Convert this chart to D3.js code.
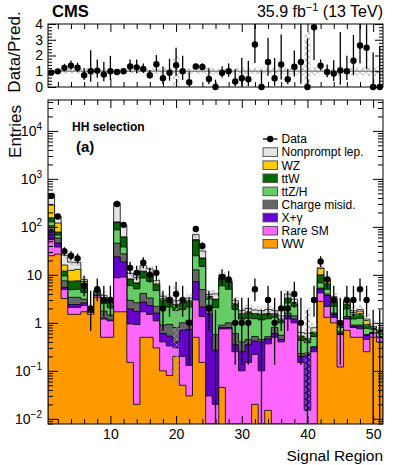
<!DOCTYPE html>
<html lang="en">
<head>
	<meta charset="utf-8">
	<title>CMS signal regions, HH selection</title>
	<script src="https://cdnjs.cloudflare.com/ajax/libs/d3/7.8.5/d3.min.js"></script>
	<style>
		body { margin: 0; background: white; }
		text { font-family: "Liberation Sans", Arial, Helvetica, sans-serif; }
	</style>
</head>
<body>
<div id="chart"></div>
<script type="text/javascript">

	// Signal region numbers
	var bins = d3.range(1, 52);

	// Predicted yields per background (bottom to top)
	var ww = [25,27,3.2,1.5,1.5,1.7,1.5,3.4,0.5,0.5, 1.7,1.7,0.15,0.02,0.5,0.5,0.3,0.1,0.08,0.2, 0.05,0.03,0.5,0.15,0,0,0.045,0,0,0, 0,0.02,0,0.015,0,0,0,0,0,0, 0,2.8,1.3,1.0,0.12,0.7,0.5,0.5,0.25,0.5,0.4];
	var rareSM = [29,11,1.8,0.6,0.6,0.6,0.15,0.3,0.7,0.6, 7,7.3,0.8,0.9,1.2,1.0,0.8,0.3,0.25,0.1, 0.15,0.1,2.5,1.2,0.03,0.02,0.7,0.75,0.25,0.1, 0.15,0.2,0.1,0.35,0.5,0.4,1.2,1.0,0.15,0.015, 0.25,1.4,0.9,0.3,0.45,0.5,0.3,0.25,0.2,0.1,0.1];
	var xGamma = [29,8,0.5,0.3,0.3,0.3,0.03,0.1,0.05,0.05, 15,9.6,1.0,0.8,1.0,0.8,0.5,0.2,0.2,0.1, 0.5,0.6,4.2,0.8,1.5,0.25,0.05,0.05,0.1,0.15, 0.2,0.2,0.3,0.1,0.1,0.05,0.2,0.2,0.05,0.2, 0.05,0.9,1.5,0.2,0.03,0.05,0.05,0.1,0.1,0.02,0.01];
	var chargeMisid = [22,12.6,2,1,1,0.5,0.05,0.2,0.5,0.3, 22,8.8,1.0,0.9,1.4,1.0,0.6,0.3,0.4,0.4, 0.3,0.4,5.5,2.8,0.8,0.3,0.1,0.2,0.25,0.15, 0.1,0.1,0.05,0.05,0.2,0.1,0.2,0.2,0.03,0.02, 0.02,0.2,0.3,0.1,0.05,0.1,0.05,0.05,0.02,0.01,0.01];
	var ttZH = [22,9,2,1.5,1.6,1.2,0.12,0.3,0.8,0.6, 41,10.6,3.0,2.5,4.5,4.0,2.5,1.3,1.2,1.0, 0.9,1.0,12.3,10,0.8,1.5,5,4,1.3,0.8, 0.8,0.7,0.7,0.7,0.5,0.45,1.0,0.8,0.2,0.15, 0.2,1.5,1.0,0.6,0.15,0.6,0.3,0.35,0.2,0.1,0.1];
	var ttW = [27,10.5,2.5,2.5,2.5,1.0,0.08,0.2,0.6,0.5, 37,22,2.0,1.5,3.0,2.5,1.5,0.8,0.6,0.5, 0.6,0.7,28,7,0.4,1.0,2.5,2,0.5,0.3, 0.4,0.3,0.35,0.3,0.2,0.15,0.6,0.4,0.08,0.08, 0.1,3.2,1.5,0.5,0.08,0.5,0.3,0.3,0.15,0.05,0.05];
	var wz = [130,42,4,5,5.5,2.0,0.05,0.2,0.2,0.15, 3,2,0.3,0.2,0.4,0.5,0.3,0.2,0.15,0.1, 0.1,0.05,1,0.5,0.05,0.05,0.1,0.1,0.1,0.05, 0.05,0.05,0.02,0.05,0.05,0.05,0.1,0.05,0.02,0.01, 0.02,3.5,1.2,0.5,0.02,0.3,0.15,0.2,0.2,0.05,0.02];
	var nonprompt = [200,45,9.5,6,5,0.7,0.02,0.1,0.4,0.3, 189,48,2.5,2.0,3.6,3.0,1.1,0.4,0.42,0.49, 0.4,0.42,15,9,0.33,0.9,1.5,0.9,0.4,0.25, 0.3,0.28,0.28,0.33,0.25,0.2,0.7,0.45,0.1,0.13, 0.15,0.5,0.7,0.3,0.05,0.25,0.15,0.15,0.08,0.02,0.03];

	// Observed events
	var observed = [443,164,31,25,22,6,2,5,3,3, 300,110,14,11,18,10,11,2,3,4, 3,1,90,40,2,0,9,8,1,1, 1,5,0,3,1,2,2,4,1,0, 3,19,8,3,1,3,3,5,3,0,0];

	// Relative uncertainty of the total prediction (hatched band)
	var relUnc = [0.12,0.12,0.15,0.15,0.15,0.2,0.25,0.2,0.2,0.2, 0.12,0.12,0.15,0.15,0.15,0.15,0.15,0.2,0.2,0.98, 0.2,0.2,0.15,0.15,0.25,0.2,0.15,0.15,0.2,0.2, 0.2,0.2,0.2,0.2,0.2,0.2,0.2,0.2,0.25,2.5, 0.25,0.15,0.15,0.2,0.3,0.2,0.25,0.25,0.3,0.3,0.3];

	// Tick values
	var xMajorTicks = [10, 20, 30, 40, 50];
	var yDecades = [-2, -1, 0, 1, 2, 3, 4];
	var ratioTicks = [0, 1, 2, 3, 4];

	// Backgrounds from the bottom of the stack to the top
	var backgrounds = [
		{name: "WW", color: "#ff9900", values: ww},
		{name: "Rare SM", color: "#ff66ff", values: rareSM},
		{name: "X+\u03b3", color: "#6600cc", values: xGamma},
		{name: "Charge misid.", color: "#666666", values: chargeMisid},
		{name: "ttZ/H", color: "#66cc66", values: ttZH},
		{name: "ttW", color: "#006600", values: ttW},
		{name: "WZ", color: "#ffcc00", values: wz},
		{name: "Nonprompt lep.", color: "#e6e6e6", values: nonprompt}
	];

	// Layout
	var width = 399, height = 465;
	var left = 48, right = 383;
	var mainTop = 100, mainBottom = 424;
	var ratioTop = 24, ratioBottom = 87;
	var yMin = 0.0078, yMax = 44000;

	var svg = d3.select("#chart")
		.append("svg")
		.attr("width", width)
		.attr("height", height)
		.style("background", "white");

	var defs = svg.append("defs");
	defs.append("pattern")
		.attr("id", "hatch")
		.attr("width", 6).attr("height", 6)
		.attr("patternUnits", "userSpaceOnUse")
		.append("path")
		.attr("d", "M0,0L6,6M6,0L0,6")
		.attr("stroke", "#9a9a9a")
		.attr("stroke-width", 0.6);
	defs.append("clipPath").attr("id", "mainClip")
		.append("rect").attr("x", left).attr("y", mainTop)
		.attr("width", right - left).attr("height", mainBottom - mainTop);
	defs.append("clipPath").attr("id", "ratioClip")
		.append("rect").attr("x", left).attr("y", ratioTop)
		.attr("width", right - left).attr("height", ratioBottom - ratioTop);

	// Scales
	var x = d3.scaleLinear().domain([0.5, 51.5]).range([left, right]);
	var y = d3.scaleLog().domain([yMin, yMax]).range([mainBottom, mainTop]).clamp(true);
	var yRatio = d3.scaleLinear().domain([0, 4]).range([ratioBottom, ratioTop]).clamp(true);
	function yv(v) { return y(Math.max(v, yMin)); }

	// Stack the backgrounds
	var rows = bins.map(function(b, i) {
		var r = {bin: b};
		backgrounds.forEach(function(s) { r[s.name] = s.values[i]; });
		return r;
	});
	var stacked = d3.stack().keys(backgrounds.map(function(s) { return s.name; }))(rows);
	var totals = rows.map(function(r, i) { return stacked[stacked.length - 1][i][1]; });

	// Poisson (Garwood-like) error bars
	function upErr(n) { return 1 + Math.sqrt(n + 0.75); }
	function lowErr(n) { return n > 0 ? Math.sqrt(n - 0.25) : 0; }

	// ---------- main panel ----------
	var main = svg.append("g").attr("clip-path", "url(#mainClip)");
	var line = d3.line();

	// Draw cumulative histograms from the top one down, ROOT style
	stacked.slice().reverse().forEach(function(layer, k) {
		var color = backgrounds[backgrounds.length - 1 - k].color;
		var pts = [[x(0.5), mainBottom + 2]];
		layer.forEach(function(d, i) {
			pts.push([x(bins[i] - 0.5), yv(d[1])]);
			pts.push([x(bins[i] + 0.5), yv(d[1])]);
		});
		pts.push([x(51.5), mainBottom + 2]);
		main.append("path")
			.attr("d", line(pts) + "Z")
			.attr("fill", color)
			.attr("stroke", "black")
			.attr("stroke-width", 0.8);
	});

	// Uncertainty band
	main.selectAll("rect.unc")
		.data(bins)
		.enter()
		.append("rect")
		.attr("class", "unc")
		.attr("x", function(b) { return x(b - 0.5); })
		.attr("width", function(b) { return x(b + 0.5) - x(b - 0.5); })
		.attr("y", function(b, i) { return yv(totals[i] * (1 + relUnc[i])); })
		.attr("height", function(b, i) { return yv(totals[i] * (1 - relUnc[i])) - yv(totals[i] * (1 + relUnc[i])); })
		.attr("fill", "url(#hatch)");

	// Data error bars and markers
	main.selectAll("line.err")
		.data(bins)
		.enter()
		.append("line")
		.attr("class", "err")
		.attr("x1", function(b) { return x(b); })
		.attr("x2", function(b) { return x(b); })
		.attr("y1", function(b, i) { return yv(observed[i] - lowErr(observed[i])); })
		.attr("y2", function(b, i) { return yv(observed[i] + upErr(observed[i])); })
		.attr("stroke", "black")
		.attr("stroke-width", 1.3);

	svg.selectAll("circle.data")
		.data(bins.filter(function(b, i) { return observed[i] > 0; }))
		.enter()
		.append("circle")
		.attr("class", "data")
		.attr("cx", function(b) { return x(b); })
		.attr("cy", function(b) { return yv(observed[b - 1]); })
		.attr("r", 3.2)
		.attr("fill", "black");

	// Main axes
	var xMinorTicks = d3.range(2, 52, 2).filter(function(v) { return v % 10 !== 0; });
	var yMajor = yDecades.map(function(e) { return Math.pow(10, e); });
	var yMinor = [];
	d3.range(-3, 5).forEach(function(e) {
		for (var m = 2; m <= 9; m++) {
			var v = m * Math.pow(10, e);
			if (v > yMin && v < yMax) yMinor.push(v);
		}
	});

	function addAxis(axis, tx, ty) {
		var g = svg.append("g")
			.attr("transform", "translate(" + tx + "," + ty + ")")
			.call(axis);
		g.select(".domain").remove();
		g.selectAll("line").attr("stroke", "black");
		return g;
	}

	var xAxisMain = addAxis(d3.axisBottom(x).tickValues(xMajorTicks).tickSize(-8).tickPadding(5)
		.tickFormat(d3.format("d")), 0, mainBottom);
	xAxisMain.selectAll("text").attr("font-size", 14).attr("fill", "black")
		.attr("font-family", "Liberation Sans, Arial, sans-serif");
	addAxis(d3.axisBottom(x).tickValues(xMinorTicks).tickSize(-5).tickFormat(""), 0, mainBottom);
	addAxis(d3.axisTop(x).tickValues(xMajorTicks).tickSize(-8).tickFormat(""), 0, mainTop);
	addAxis(d3.axisTop(x).tickValues(xMinorTicks).tickSize(-5).tickFormat(""), 0, mainTop);
	addAxis(d3.axisLeft(y).tickValues(yMajor).tickSize(-10).tickFormat(""), left, 0);
	addAxis(d3.axisLeft(y).tickValues(yMinor).tickSize(-5).tickFormat(""), left, 0);
	addAxis(d3.axisRight(y).tickValues(yMajor).tickSize(-10).tickFormat(""), right, 0);
	addAxis(d3.axisRight(y).tickValues(yMinor).tickSize(-5).tickFormat(""), right, 0);

	// Log labels with superscripts
	var yLabels = svg.selectAll("text.ylab")
		.data(yDecades)
		.enter()
		.append("text")
		.attr("class", "ylab")
		.attr("x", 42)
		.attr("y", function(e) { return y(Math.pow(10, e)) + 5; })
		.attr("text-anchor", "end")
		.attr("font-size", 14);
	yLabels.each(function(e) {
		var t = d3.select(this);
		if (e === 0) { t.text("1"); return; }
		if (e === 1) { t.text("10"); return; }
		t.append("tspan").text("10");
		t.append("tspan").attr("font-size", 10).attr("dy", -6)
			.text(e < 0 ? "\u2212" + (-e) : String(e));
	});

	svg.append("rect")
		.attr("x", left).attr("y", mainTop)
		.attr("width", right - left).attr("height", mainBottom - mainTop)
		.attr("fill", "none").attr("stroke", "black").attr("stroke-width", 1);

	svg.append("text")
		.attr("transform", "translate(21," + 105 + ") rotate(-90)")
		.attr("text-anchor", "end")
		.attr("font-size", 17)
		.text("Entries");

	svg.append("text")
		.attr("x", right).attr("y", 461)
		.attr("text-anchor", "end")
		.attr("font-size", 15.5)
		.text("Signal Region");

	svg.append("text")
		.attr("x", 72).attr("y", 131)
		.attr("font-size", 12).attr("font-weight", "bold")
		.text("HH selection");
	svg.append("text")
		.attr("x", 76).attr("y", 152)
		.attr("font-size", 15).attr("font-weight", "bold")
		.text("(a)");

	// Legend
	var legendRows = [{name: "Data", color: null}].concat(backgrounds.slice().reverse());
	var legend = svg.selectAll("g.leg")
		.data(legendRows)
		.enter()
		.append("g")
		.attr("class", "leg")
		.attr("transform", function(d, i) { return "translate(263," + (139 + i * 13.1) + ")"; });
	legend.each(function(d) {
		var g = d3.select(this);
		if (d.color === null) {
			g.append("line").attr("x1", 0).attr("x2", 14.5).attr("y1", 0).attr("y2", 0)
				.attr("stroke", "black").attr("stroke-width", 1.3);
			g.append("circle").attr("cx", 7.2).attr("cy", 0).attr("r", 3.2).attr("fill", "black");
		} else {
			g.append("rect").attr("x", 0).attr("y", -4.3).attr("width", 14.5).attr("height", 8.6)
				.attr("fill", d.color).attr("stroke", "#555").attr("stroke-width", 1);
		}
		g.append("text").attr("x", 18.5).attr("y", 4.3).attr("font-size", 12).text(d.name);
	});

	// ---------- ratio panel ----------
	var ratio = svg.append("g");
	ratio.append("g").attr("clip-path", "url(#ratioClip)")
		.selectAll("rect")
		.data(bins)
		.enter()
		.append("rect")
		.attr("x", function(b) { return x(b - 0.5); })
		.attr("width", function(b) { return x(b + 0.5) - x(b - 0.5); })
		.attr("y", function(b, i) { return yRatio(1 + relUnc[i]); })
		.attr("height", function(b, i) { return yRatio(1 - relUnc[i]) - yRatio(1 + relUnc[i]); })
		.attr("fill", "url(#hatch)");

	ratio.append("line")
		.attr("x1", left).attr("x2", right)
		.attr("y1", yRatio(1)).attr("y2", yRatio(1))
		.attr("stroke", "#8c8c8c").attr("stroke-width", 1.3);

	ratio.selectAll("line.rerr")
		.data(bins)
		.enter()
		.append("line")
		.attr("class", "rerr")
		.attr("x1", function(b) { return x(b); })
		.attr("x2", function(b) { return x(b); })
		.attr("y1", function(b, i) { return yRatio((observed[i] - lowErr(observed[i])) / totals[i]); })
		.attr("y2", function(b, i) { return yRatio((observed[i] + upErr(observed[i])) / totals[i]); })
		.attr("stroke", "black")
		.attr("stroke-width", 1.3);

	ratio.selectAll("circle")
		.data(bins)
		.enter()
		.append("circle")
		.attr("cx", function(b) { return x(b); })
		.attr("cy", function(b, i) { return yRatio(observed[i] / totals[i]); })
		.attr("r", 3.2)
		.attr("fill", "black");

	var ratioMinor = d3.range(0, 4.01, 0.2).filter(function(v) { return Math.abs(v - Math.round(v)) > 0.01; });
	addAxis(d3.axisBottom(x).tickValues(xMajorTicks).tickSize(-8).tickFormat(""), 0, ratioBottom);
	addAxis(d3.axisBottom(x).tickValues(xMinorTicks).tickSize(-5).tickFormat(""), 0, ratioBottom);
	addAxis(d3.axisTop(x).tickValues(xMajorTicks).tickSize(-8).tickFormat(""), 0, ratioTop);
	addAxis(d3.axisTop(x).tickValues(xMinorTicks).tickSize(-5).tickFormat(""), 0, ratioTop);
	var rAxis = addAxis(d3.axisLeft(yRatio).tickValues(ratioTicks).tickSize(-8).tickPadding(5)
		.tickFormat(d3.format("d")), left, 0);
	rAxis.selectAll("text").attr("font-size", 14).attr("fill", "black")
		.attr("font-family", "Liberation Sans, Arial, sans-serif");
	addAxis(d3.axisLeft(yRatio).tickValues(ratioMinor).tickSize(-4).tickFormat(""), left, 0);
	addAxis(d3.axisRight(yRatio).tickValues(ratioTicks).tickSize(-8).tickFormat(""), right, 0);
	addAxis(d3.axisRight(yRatio).tickValues(ratioMinor).tickSize(-4).tickFormat(""), right, 0);

	svg.append("rect")
		.attr("x", left).attr("y", ratioTop)
		.attr("width", right - left).attr("height", ratioBottom - ratioTop)
		.attr("fill", "none").attr("stroke", "black").attr("stroke-width", 1);

	svg.append("text")
		.attr("transform", "translate(20," + 52 + ") rotate(-90)")
		.attr("text-anchor", "middle")
		.attr("font-size", 17)
		.text("Data/Pred.");

	// Header
	svg.append("text")
		.attr("x", 52).attr("y", 17)
		.attr("font-size", 16.5).attr("font-weight", "bold")
		.text("CMS");
	var lumi = svg.append("text")
		.attr("x", right).attr("y", 17)
		.attr("text-anchor", "end")
		.attr("font-size", 16);
	lumi.append("tspan").text("35.9 fb");
	lumi.append("tspan").attr("font-size", 11).attr("dy", -6).text("\u22121");
	lumi.append("tspan").attr("dy", 6).text(" (13 TeV)");

</script>
</body>
</html>
